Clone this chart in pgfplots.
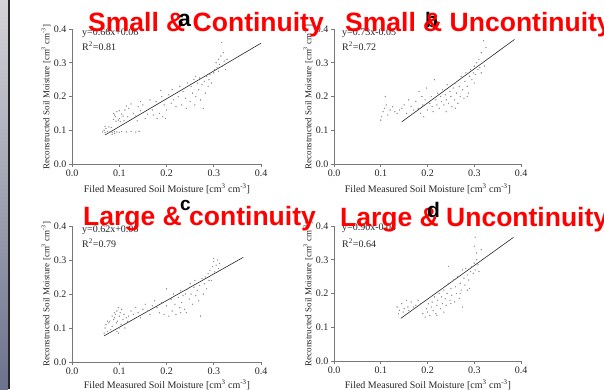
\documentclass[border=0pt]{standalone}
\usepackage{pgfplots}
\pgfplotsset{compat=1.18}
\usepackage{fontspec}
\setmainfont{Liberation Serif}
\newfontfamily\arial{Liberation Sans}
\definecolor{striptop}{RGB}{212,212,216}
\definecolor{stripbot}{RGB}{108,114,140}
\definecolor{axgray}{RGB}{120,120,120}
\definecolor{titlered}{RGB}{255,0,0}
\pgfplotsset{
  panel/.style={
    scale only axis, axis lines=left, axis line style={-, axgray, line width=0.8pt},
    xmin=0, xmax=0.4, ymin=0, ymax=0.4, enlargelimits=false,
    xtick={0,0.1,0.2,0.3,0.4}, ytick={0,0.1,0.2,0.3,0.4},
    tick align=outside, major tick length=3pt, tick style={axgray, line width=0.6pt},
    /pgf/number format/.cd, fixed, fixed zerofill, precision=1, assume math mode=true,
    /pgfplots/.cd,
    tick label style={font=\fontsize{10}{12}\selectfont, text=black!85},
    xticklabel style={yshift=1pt},
    yticklabel style={xshift=1pt},
    clip=false,
  },
  dots/.style={only marks, mark=*, mark size=0.4pt, draw=black!45, fill=black!45},
  fit/.style={black!85, line width=0.6pt},
}
\begin{document}
\begin{tikzpicture}[x=1pt,y=1pt]
\useasboundingbox (0,0) rectangle (604,389);
\fill[white] (0,0) rectangle (604,389);
\shade[top color=striptop, bottom color=stripbot] (0,0) rectangle (8,389);
\fill[black!85] (8,0) rectangle (10,389);

% ---------- panel a ----------
\begin{axis}[panel, at={(72pt,225pt)}, anchor=south west, width=189pt, height=135pt]
\addplot[dots] coordinates {
(0.065,0.095)(0.07,0.094)(0.075,0.096)(0.08,0.095)(0.085,0.094)(0.09,0.096)(0.095,0.095)(0.1,0.094)(0.105,0.096)(0.115,0.095)(0.125,0.096)(0.135,0.095)(0.142,0.097)(0.068,0.1)(0.072,0.105)(0.078,0.11)(0.085,0.088)(0.09,0.09)(0.07,0.112)(0.083,0.108)
(0.088,0.15)(0.09,0.145)(0.092,0.14)(0.095,0.155)(0.098,0.13)(0.1,0.135)(0.102,0.125)(0.105,0.148)(0.108,0.142)(0.11,0.128)(0.088,0.132)(0.093,0.127)(0.1,0.158)(0.112,0.16)
(0.115,0.172)(0.12,0.165)(0.125,0.178)(0.13,0.15)(0.135,0.142)(0.14,0.17)(0.145,0.158)(0.15,0.175)(0.155,0.135)(0.16,0.148)(0.118,0.14)(0.128,0.135)(0.138,0.128)(0.145,0.185)
(0.165,0.19)(0.17,0.16)(0.172,0.145)(0.178,0.185)(0.18,0.135)(0.185,0.15)(0.19,0.2)(0.192,0.14)(0.195,0.175)(0.2,0.16)(0.198,0.135)(0.188,0.218)(0.205,0.205)(0.21,0.18)
(0.212,0.22)(0.215,0.19)(0.22,0.17)(0.225,0.2)(0.228,0.23)(0.232,0.175)(0.235,0.215)(0.24,0.195)(0.242,0.165)(0.245,0.24)(0.25,0.185)(0.252,0.23)(0.255,0.21)(0.258,0.25)(0.26,0.175)(0.262,0.2)(0.265,0.24)(0.268,0.22)(0.27,0.255)(0.272,0.19)(0.275,0.235)(0.278,0.165)(0.28,0.245)(0.282,0.21)(0.285,0.26)(0.288,0.23)(0.29,0.25)(0.292,0.265)(0.295,0.24)(0.262,0.26)
(0.3,0.27)(0.302,0.28)(0.305,0.3)(0.307,0.285)(0.31,0.31)(0.312,0.295)(0.315,0.32)(0.318,0.29)(0.32,0.33)(0.322,0.305)(0.325,0.28)(0.317,0.36)(0.328,0.31)(0.31,0.275)
};
\addplot[fit] coordinates {(0.07,0.086)(0.4,0.358)};
\end{axis}

% ---------- panel b ----------
\begin{axis}[panel, at={(334pt,225pt)}, anchor=south west, width=187pt, height=135pt]
\addplot[dots] coordinates {
(0.1,0.13)(0.102,0.14)(0.105,0.155)(0.108,0.165)(0.11,0.2)(0.112,0.175)(0.115,0.145)(0.12,0.16)(0.125,0.17)(0.13,0.155)(0.135,0.15)(0.14,0.16)(0.145,0.165)(0.15,0.175)
(0.155,0.15)(0.16,0.19)(0.165,0.17)(0.17,0.16)(0.175,0.185)(0.18,0.165)(0.182,0.215)(0.185,0.15)(0.188,0.2)(0.19,0.175)(0.192,0.14)(0.195,0.19)(0.198,0.225)(0.2,0.16)(0.205,0.18)(0.208,0.2)(0.21,0.17)(0.212,0.155)(0.215,0.25)(0.218,0.19)(0.22,0.175)(0.222,0.21)(0.225,0.165)(0.228,0.2)(0.23,0.185)(0.232,0.22)(0.235,0.175)(0.238,0.205)(0.24,0.19)(0.242,0.235)(0.245,0.18)(0.248,0.215)(0.25,0.2)(0.252,0.17)(0.255,0.225)(0.258,0.19)(0.26,0.24)(0.262,0.21)(0.265,0.18)(0.268,0.23)(0.27,0.2)(0.272,0.26)(0.275,0.22)(0.278,0.195)(0.28,0.245)(0.282,0.27)(0.285,0.23)(0.288,0.21)(0.29,0.26)(0.292,0.28)(0.295,0.25)(0.298,0.27)(0.3,0.29)(0.302,0.265)(0.305,0.3)(0.308,0.28)(0.31,0.31)(0.312,0.285)(0.315,0.33)(0.318,0.3)(0.32,0.365)(0.322,0.29)(0.325,0.345)(0.328,0.31)(0.3,0.24)(0.285,0.2)(0.26,0.165)(0.24,0.155)(0.315,0.27)
};
\addplot[fit] coordinates {(0.145,0.125)(0.386,0.369)};
\end{axis}

% ---------- panel c ----------
\begin{axis}[panel, at={(72pt,27pt)}, anchor=south west, width=189pt, height=136pt]
\addplot[dots] coordinates {
(0.068,0.085)(0.07,0.1)(0.072,0.11)(0.075,0.09)(0.078,0.115)(0.08,0.12)(0.082,0.095)(0.085,0.105)(0.088,0.125)(0.09,0.13)(0.092,0.14)(0.094,0.115)(0.095,0.15)(0.096,0.12)(0.098,0.085)(0.1,0.1)(0.1,0.135)(0.102,0.145)(0.104,0.11)(0.105,0.155)(0.108,0.125)(0.11,0.14)(0.112,0.1)(0.115,0.13)(0.118,0.12)(0.09,0.145)(0.085,0.135)(0.098,0.16)(0.075,0.12)(0.095,0.09)
(0.12,0.135)(0.125,0.15)(0.13,0.14)(0.135,0.16)(0.14,0.145)(0.145,0.13)(0.15,0.155)(0.155,0.17)(0.16,0.15)(0.165,0.14)(0.17,0.165)(0.175,0.18)(0.18,0.16)(0.185,0.145)(0.19,0.175)(0.195,0.14)(0.2,0.165)(0.205,0.135)(0.21,0.185)(0.212,0.15)(0.215,0.2)(0.218,0.17)(0.22,0.14)(0.225,0.19)(0.228,0.16)(0.23,0.21)(0.232,0.175)(0.235,0.195)(0.238,0.155)(0.24,0.2)(0.242,0.145)(0.245,0.215)(0.248,0.185)(0.25,0.23)(0.252,0.2)(0.255,0.17)(0.258,0.22)(0.26,0.24)(0.262,0.195)(0.265,0.21)(0.268,0.18)(0.27,0.225)(0.272,0.135)(0.275,0.245)(0.278,0.2)(0.28,0.23)(0.282,0.25)(0.285,0.215)(0.288,0.26)(0.29,0.24)(0.292,0.27)(0.295,0.255)(0.298,0.28)(0.3,0.295)(0.302,0.265)(0.305,0.285)(0.308,0.3)(0.31,0.275)(0.3,0.305)(0.312,0.29)(0.295,0.24)(0.2,0.215)(0.23,0.145)
};
\addplot[fit] coordinates {(0.068,0.077)(0.3626,0.308)};
\end{axis}

% ---------- panel d ----------
\begin{axis}[panel, at={(334pt,28pt)}, anchor=south west, width=187pt, height=135pt]
\addplot[dots] coordinates {
(0.135,0.16)(0.138,0.14)(0.14,0.15)(0.145,0.17)(0.148,0.145)(0.15,0.155)(0.155,0.18)(0.158,0.16)(0.16,0.15)(0.165,0.175)(0.17,0.16)(0.175,0.165)(0.18,0.18)(0.185,0.17)
(0.19,0.14)(0.195,0.13)(0.198,0.155)(0.2,0.145)(0.202,0.17)(0.205,0.135)(0.208,0.16)(0.21,0.175)(0.212,0.15)(0.215,0.19)(0.218,0.14)(0.22,0.165)(0.222,0.18)(0.225,0.2)(0.228,0.155)(0.23,0.19)(0.232,0.17)(0.235,0.21)(0.238,0.185)(0.24,0.165)(0.242,0.2)(0.245,0.23)(0.245,0.28)(0.248,0.18)(0.25,0.215)(0.252,0.195)(0.255,0.24)(0.258,0.175)(0.26,0.22)(0.262,0.2)(0.265,0.25)(0.268,0.185)(0.27,0.23)(0.272,0.21)(0.275,0.16)(0.275,0.27)(0.278,0.245)(0.28,0.225)(0.282,0.275)(0.285,0.255)(0.288,0.24)(0.29,0.215)(0.292,0.265)(0.295,0.28)(0.298,0.26)(0.3,0.29)(0.3,0.34)(0.302,0.27)(0.305,0.3)(0.305,0.32)(0.308,0.285)(0.31,0.265)(0.302,0.367)(0.315,0.33)(0.25,0.17)(0.235,0.145)(0.27,0.2)(0.22,0.135)(0.285,0.21)
};
\addplot[fit] coordinates {(0.143,0.1265)(0.384,0.3665)};
\end{axis}

% ---------- axis labels ----------
\begin{scope}[every node/.style={inner sep=0pt, text=black!85}]
\node[font=\fontsize{10}{12}\selectfont] at (167,200) {Filed Measured Soil Moisture [cm\textsuperscript{3} cm\textsuperscript{-3}]};
\node[font=\fontsize{10}{12}\selectfont] at (428,200) {Filed Measured Soil Moisture [cm\textsuperscript{3} cm\textsuperscript{-3}]};
\node[font=\fontsize{10}{12}\selectfont] at (167,4) {Filed Measured Soil Moisture [cm\textsuperscript{3} cm\textsuperscript{-3}]};
\node[font=\fontsize{10}{12}\selectfont] at (428,4) {Filed Measured Soil Moisture [cm\textsuperscript{3} cm\textsuperscript{-3}]};
\node[rotate=90, font=\fontsize{9}{11}\selectfont] at (46,292) {Reconstructed Soil Moisture [cm\textsuperscript{3} cm\textsuperscript{-3}]};
\node[rotate=90, font=\fontsize{9}{11}\selectfont] at (308,292) {Reconstructed Soil Moisture [cm\textsuperscript{3} cm\textsuperscript{-3}]};
\node[rotate=90, font=\fontsize{9}{11}\selectfont] at (46,95) {Reconstructed Soil Moisture [cm\textsuperscript{3} cm\textsuperscript{-3}]};
\node[rotate=90, font=\fontsize{9}{11}\selectfont] at (308,95) {Reconstructed Soil Moisture [cm\textsuperscript{3} cm\textsuperscript{-3}]};
% equations
\node[anchor=west, font=\fontsize{10}{12}\selectfont] at (82,356) {y=0.66x+0.06};
\node[anchor=west, font=\fontsize{10}{12}\selectfont] at (82,343) {R\textsuperscript{2}=0.81};
\node[anchor=west, font=\fontsize{10}{12}\selectfont] at (342,356) {y=0.73x-0.05};
\node[anchor=west, font=\fontsize{10}{12}\selectfont] at (342,343) {R\textsuperscript{2}=0.72};
\node[anchor=west, font=\fontsize{10}{12}\selectfont] at (82,159) {y=0.62x+0.06};
\node[anchor=west, font=\fontsize{10}{12}\selectfont] at (82,146) {R\textsuperscript{2}=0.79};
\node[anchor=west, font=\fontsize{10}{12}\selectfont] at (342,161) {y=0.90x-0.04};
\node[anchor=west, font=\fontsize{10}{12}\selectfont] at (342,146) {R\textsuperscript{2}=0.64};
\end{scope}

% ---------- panel letters & titles ----------
\begin{scope}[every node/.style={inner sep=0pt}]
\node[anchor=base west, font=\arial\bfseries\fontsize{21}{24}\selectfont] at (425,361) {b};
\node[anchor=base west, font=\arial\bfseries\fontsize{26.5}{30}\selectfont, text=titlered] at (88,357) {Small \& Continuity};
\node[anchor=base west, font=\arial\bfseries\fontsize{26.5}{30}\selectfont, text=titlered] at (345,357) {Small \& Uncontinuity};
\node[anchor=base west, font=\arial\bfseries\fontsize{26.5}{30}\selectfont, text=titlered] at (83,164) {Large \& continuity};
\node[anchor=base west, font=\arial\bfseries\fontsize{26.5}{30}\selectfont, text=titlered] at (340,163) {Large \& Uncontinuity};
\node[anchor=base west, font=\arial\bfseries\fontsize{23}{26}\selectfont] at (178,362) {a};
\node[anchor=base west, font=\arial\bfseries\fontsize{19}{22}\selectfont] at (180,179) {c};
\node[anchor=base west, font=\arial\bfseries\fontsize{21}{24}\selectfont] at (427,172) {d};
\end{scope}
\end{tikzpicture}
\end{document}
